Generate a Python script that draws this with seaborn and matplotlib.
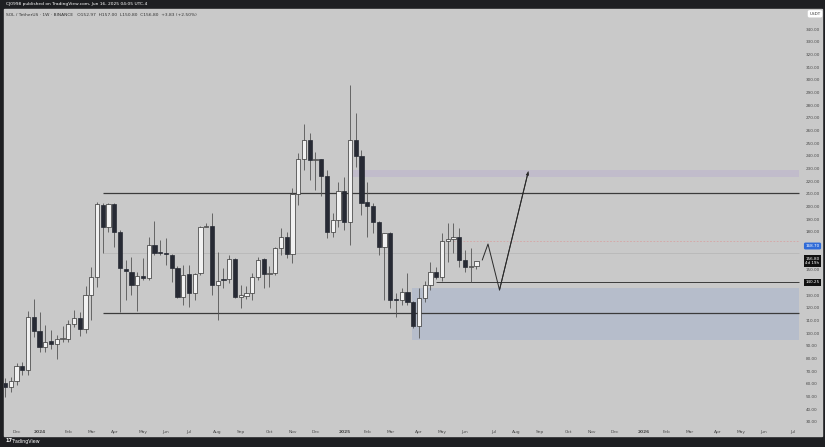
import numpy as np
import pandas as pd
import matplotlib
matplotlib.use("Agg")
import matplotlib.pyplot as plt
import matplotlib.dates as mdates
from matplotlib.patches import Rectangle
import seaborn as sns

# SOL/USDT weekly candles (Binance), one per week starting Monday 2023-11-20
first_week = "2023-11-20"
opens = [60.5, 57.6, 62.3, 74.2, 70.8, 112.6, 101.6, 89.2, 93.7, 91.1,
         95.3, 95.5, 107.1, 112.1, 103.2, 129.8, 144.0, 201.3, 183.9, 201.8,
         179.5, 150.8, 148.4, 137.9, 145.2, 143.7, 169.2, 163.4, 162.9, 161.8,
         151.1, 128.7, 146.3, 131.3, 147.6, 183.9, 184.5, 137.9, 142.8, 142.4,
         158.4, 128.2, 129.5, 131.3, 144.0, 158.2, 146.3, 147.1, 167.3, 175.8,
         162.4, 209.7, 237.1, 252.4, 236.6, 237.1, 224.0, 180.0, 189.2, 212.3,
         187.9, 252.4, 239.7, 203.2, 200.3, 187.9, 168.1, 178.7, 126.6, 126.1,
         132.5, 124.6, 105.5, 127.9, 137.9, 147.9, 144.0, 172.6, 174.0, 175.6,
         157.6, 152.3, 152.97]
highs = [64.5, 65.5, 76.6, 77.4, 117.6, 126.9, 116.8, 106.3, 102.4, 98.4,
         105.5, 110.3, 118.2, 116.8, 137.1, 152.4, 203.7, 202.4, 202.9, 202.9,
         181.0, 157.6, 160.0, 148.4, 159.2, 176.0, 188.7, 173.4, 175.2, 162.5,
         152.9, 153.7, 153.7, 147.6, 184.5, 187.1, 194.5, 164.2, 151.0, 161.6,
         159.0, 137.9, 137.1, 147.6, 160.2, 159.0, 153.0, 167.9, 182.7, 180.0,
         214.2, 241.9, 264.8, 257.9, 243.0, 237.5, 228.7, 194.5, 219.4, 223.4,
         295.8, 273.9, 244.5, 219.4, 202.4, 188.5, 179.2, 179.5, 131.3, 135.3,
         147.1, 125.0, 135.3, 141.3, 156.3, 152.3, 179.2, 186.6, 187.1, 182.7,
         165.4, 166.9, 157.0]
lows = [49.5, 53.6, 58.9, 66.9, 66.9, 97.1, 85.2, 85.2, 87.1, 79.2,
        93.1, 93.1, 105.0, 97.9, 99.8, 110.0, 136.6, 162.9, 180.0, 168.1,
        116.8, 126.1, 130.0, 117.6, 141.8, 141.8, 161.6, 161.6, 153.7, 140.5,
        127.4, 122.1, 120.8, 126.1, 145.8, 183.5, 130.0, 110.3, 135.3, 139.5,
        127.4, 119.5, 126.6, 126.1, 141.8, 135.5, 136.0, 145.8, 161.6, 159.0,
        155.0, 201.1, 228.7, 220.8, 213.0, 208.0, 175.0, 176.0, 184.0, 181.3,
        169.5, 231.2, 193.2, 176.0, 179.2, 161.6, 126.1, 119.5, 112.9, 122.1,
        122.1, 103.6, 95.8, 124.7, 134.0, 142.4, 141.3, 156.3, 162.9, 152.3,
        148.4, 140.5, 150.8]
closes = [57.6, 62.3, 74.2, 70.8, 112.6, 101.6, 89.2, 93.1, 91.1, 95.3,
          96.1, 107.1, 111.6, 102.9, 129.8, 144.0, 201.8, 183.9, 201.8, 179.5,
          151.1, 148.7, 137.9, 145.0, 143.7, 169.2, 163.4, 162.9, 162.1, 151.1,
          128.7, 145.8, 131.3, 146.5, 183.9, 184.5, 137.9, 141.3, 142.2, 158.2,
          128.2, 130.0, 131.3, 144.0, 157.6, 146.3, 147.1, 166.9, 176.0, 162.4,
          209.7, 237.1, 252.4, 236.6, 237.1, 224.0, 180.0, 189.2, 212.3, 187.9,
          252.4, 239.7, 203.0, 200.3, 187.9, 168.1, 178.7, 126.1, 126.1, 132.5,
          124.6, 105.5, 127.9, 137.9, 147.9, 144.0, 172.6, 174.0, 176.0, 157.6,
          152.3, 152.97, 156.8]

# drawn levels and zones
range_high = 210.3
range_low = 115.6
range_mid = 163.0
range_start = "2024-03-18"
support_level = 140.0
support_start = "2025-04-28"
alert_level = 172.6
alert_start = "2025-05-18"
target_zone = [222.9, 228.7]
target_start = "2025-01-10"
demand_zone = [94.5, 135.3]
demand_start = "2025-03-30"
drawing_end = "2026-07-14"

# projected path
path_dates = ["2025-06-23", "2025-06-30", "2025-07-14", "2025-08-18"]
path_prices = [157.6, 170.3, 134.0, 227.3]

BG = "#c9c9c9"
DARK = "#1e1f22"

sns.set_theme(style="white")
plt.rcParams["font.family"] = ["DejaVu Sans"]

df = pd.DataFrame({
    "date": pd.date_range(first_week, periods=len(opens), freq="7D"),
    "open": opens, "high": highs, "low": lows, "close": closes,
})
df["x"] = mdates.date2num(df["date"])
df["up"] = df["close"] >= df["open"]
df["body"] = (df["close"] - df["open"]).abs().clip(lower=0.7)
df["bottom"] = df[["open", "close"]].min(axis=1)

fig = plt.figure(figsize=(8.25, 4.47), dpi=100, facecolor=DARK)
fig.patches.append(Rectangle((4 / 825, 11 / 447), 818 / 825, 427 / 447,
                             transform=fig.transFigure, color=BG, zorder=-10))
ax = fig.add_axes([4 / 825, 23 / 447, 799 / 825, 415 / 447])
ax.set_zorder(1)
ax.set_facecolor(BG)
for s in ax.spines.values():
    s.set_visible(False)

d2n = lambda d: mdates.date2num(pd.Timestamp(d))
x_end = d2n(drawing_end)

# zones
ax.fill_between([d2n(target_start), x_end], *target_zone, color="#c1bccb", lw=0, zorder=1)
ax.fill_between([d2n(demand_start), x_end], *demand_zone, color="#b6bdcb", lw=0, zorder=1)

# levels
ax.hlines([range_high, range_low], d2n(range_start), x_end, color="#3b3b3b", lw=0.9, zorder=2)
ax.hlines(range_mid, d2n(range_start), x_end, color="#b8b8b8", lw=0.6, zorder=2)
ax.hlines(support_level, d2n(support_start), x_end, color="#3b3b3b", lw=0.7, zorder=2)
ax.hlines(alert_level, d2n(alert_start), x_end, color="#d7a3a3", lw=0.6, ls=(0, (2, 2)), zorder=2)

# candles
ax.vlines(df["x"], df["low"], df["high"], color="#555555", lw=0.6, zorder=3)
w = 4.9
up, dn = df[df["up"]], df[~df["up"]]
ax.bar(up["x"], up["body"], bottom=up["bottom"], width=w, color="#f1f1f1",
       edgecolor="#333333", lw=0.5, zorder=4)
ax.bar(dn["x"], dn["body"], bottom=dn["bottom"], width=w, color="#272a34",
       edgecolor="#272a34", lw=0.5, zorder=4)

# projection
path = pd.DataFrame({"date": pd.to_datetime(path_dates), "price": path_prices})
path["x"] = mdates.date2num(path["date"])
sns.lineplot(data=path, x="x", y="price", ax=ax, color="#2a2a2a", lw=0.7,
             sort=False, zorder=5)
ax.annotate("", xy=(path["x"].iloc[-1], path["price"].iloc[-1]),
            xytext=(path["x"].iloc[-2], path["price"].iloc[-2]),
            arrowprops=dict(arrowstyle="-|>", color="#2a2a2a", lw=0.7,
                            mutation_scale=4, shrinkA=0, shrinkB=0), zorder=5)

# axes
x0 = df["x"].iloc[0]
ax.set_xlim(x0 - 1.22, x0 + 971.5)
ax.set_ylim(28.2, 355.8)
ax.set_xlabel("")
ax.set_ylabel("")

weeks = pd.date_range(first_week, "2026-07-31", freq="7D")
month_firsts = weeks[weeks.day <= 7]
month_firsts = month_firsts[month_firsts >= "2023-12-01"]
ax.set_xticks(mdates.date2num(month_firsts))
ax.set_xticklabels([str(d.year) if d.month == 1 else d.strftime("%b") for d in month_firsts])
for lab, d in zip(ax.get_xticklabels(), month_firsts):
    if d.month == 1:
        lab.set_fontweight("bold")
ax.tick_params(axis="x", length=0, pad=4, labelsize=3.2, labelcolor="#4a4a4a")

# labels hidden behind the price tags are left blank
price_ticks = np.arange(30, 341, 10)
covered = {140, 160, 170}
ax.yaxis.tick_right()
ax.set_yticks(price_ticks)
ax.set_yticklabels(["" if v in covered else f"{v:.2f}" for v in price_ticks])
ax.tick_params(axis="y", length=0, pad=2, labelsize=3.0, labelcolor="#4a4a4a")
ax.grid(False)

# price tags on the scale
yt = ax.get_yaxis_transform()
lab_kw = dict(transform=yt, fontsize=3.0, ha="left", va="center", zorder=10, clip_on=False)
ax.text(1.003, 168.7, "168.70", color="white",
        bbox=dict(boxstyle="round,pad=0.35", fc="#2f6bd8", ec="none"), **lab_kw)
ax.text(1.003, 156.8, "156.80\n4d 19h", color="white", linespacing=1.1,
        bbox=dict(boxstyle="square,pad=0.35", fc="#111111", ec="none"), **lab_kw)
ax.text(1.003, support_level, "140.25", color="white",
        bbox=dict(boxstyle="square,pad=0.35", fc="#111111", ec="none"), **lab_kw)
ax.text(1.008, 352.0, "USDT", color="#333333",
        bbox=dict(boxstyle="round,pad=0.4", fc="white", ec="none"), **lab_kw)

# header / footer
fig.text(6 / 825, 1 - 4.5 / 447, "CJ0998 published on TradingView.com, Jun 16, 2025 04:05 UTC-4",
         color="white", fontsize=3.2, va="center")
fig.text(6 / 825, 1 - 15 / 447,
         "SOL / TetherUS · 1W · BINANCE   O152.97  H157.00  L150.80  C156.80  +3.83 (+2.50%)",
         color="#333333", fontsize=3.2, va="center")
fig.text(5 / 825, 1 - 441 / 447, "17", color="white", fontsize=3.6, fontweight="bold", va="center")
fig.text(12 / 825, 1 - 441 / 447, "TradingView", color="white", fontsize=3.4, va="center")

fig.savefig("out.png", dpi=100, facecolor=DARK)
